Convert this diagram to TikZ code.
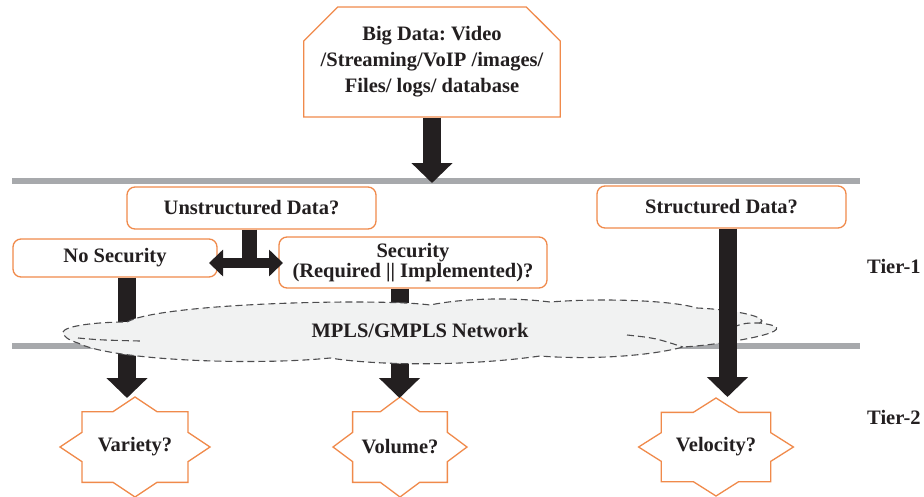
\documentclass[tikz,border=0pt]{standalone}
\usepackage{fontspec}
\setmainfont{Liberation Serif}
\usetikzlibrary{arrows.meta,shapes.misc}
\definecolor{boxorange}{HTML}{F08A4B}
\definecolor{ink}{HTML}{231F20}
\definecolor{railgray}{HTML}{A7A9AC}
\definecolor{cloudfill}{HTML}{F1F2F2}
\definecolor{cloudline}{HTML}{4D4D4F}

% eight-pointed star: centre x, centre y, vertical radius, horizontal stretch
\newcommand\eightstar[4]{%
  \draw[starline] (#1,{#2-#3})
    \foreach \a/\q in {67.5/0.7654,45/1,22.5/0.7654,0/1,-22.5/0.7654,-45/1,-67.5/0.7654,-90/1,
                       -112.5/0.7654,-135/1,-157.5/0.7654,180/1,157.5/0.7654,135/1,112.5/0.7654}
    { -- ({#1+#4*#3*\q*cos(\a)},{#2-#3*\q*sin(\a)}) } -- cycle;}

\frenchspacing
\begin{document}
\begin{tikzpicture}[x=1pt,y=-1pt,
  lbl/.style={font=\bfseries\fontsize{20.5}{24}\selectfont, text=ink, inner sep=0pt, align=center},
  qbox/.style={lbl, draw=boxorange, line width=1.3pt, fill=white, rounded corners=8pt},
  fatarrow/.style={draw=ink, line width=18pt, -{Triangle[width=40pt,length=20pt]}},
  rail/.style={draw=railgray, line width=6pt},
  starline/.style={draw=boxorange, line width=1.3pt, fill=white, line join=miter},
  cloudedge/.style={draw=cloudline, line width=1.1pt, dash pattern=on 7pt off 4pt}
]
\useasboundingbox (0,0) rectangle (924,496);

% tier separators
\draw[rail] (12,181) -- (860,181);
\draw[rail] (12,345.5) -- (860,345.5);

% source box
\node[lbl, draw=boxorange, line width=1.3pt, fill=white,
      chamfered rectangle, chamfered rectangle corners={north west,north east},
      chamfered rectangle xsep=17pt, chamfered rectangle ysep=17pt,
      minimum width=250pt, minimum height=110pt, font=\bfseries\fontsize{20.5}{26}\selectfont]
      (bigdata) at (432,62) {Big Data: Video\\/Streaming/VoIP /images/\\Files/ logs/ database};

% tier-1 decision boxes
\node[qbox, minimum width=249pt, minimum height=42pt] (unstr) at (251.5,208) {Unstructured Data?};
\node[qbox, minimum width=249pt, minimum height=42pt] (str) at (721.5,207) {Structured Data?};
\node[qbox, minimum width=204pt, minimum height=38pt] (nosec) at (115,258) {No Security};
\node[qbox, minimum width=268pt, minimum height=51pt, font=\bfseries\fontsize{20.5}{20.5}\selectfont]
      (sec) at (413,262.5) {Security\\(Required || Implemented)?};

% arrow end points
\coordinate (railtip) at (432,183);
\coordinate (stem) at (249,263);
\coordinate (dleft) at (209,263);
\coordinate (dright) at (283,263);
\coordinate (varietytip) at (127,398);
\coordinate (volumetip) at (399.5,398);
\coordinate (velocitytip) at (727.5,397);

% tier-2 outcomes
\eightstar{135}{447}{50}{1.5}
\eightstar{400}{447}{50}{1.34}
\eightstar{716}{447}{49}{1.58}
\node[lbl] (variety) at (135,447) {Variety?};
\node[lbl] (volume) at (400,447) {Volume?};
\node[lbl] (velocity) at (716,447) {Velocity?};

% flows
\draw[fatarrow] (bigdata.south) -- (railtip);
\draw[draw=ink, line width=15pt] (unstr.south -| stem) -- (stem);
\draw[draw=ink, line width=10pt, {Triangle[width=26pt,length=14pt]}-{Triangle[width=26pt,length=14pt]}] (dleft) -- (dright);
\draw[fatarrow] (nosec.south -| varietytip) -- (varietytip);
\draw[fatarrow] (sec.south -| volumetip) -- (volumetip);

% network cloud
\path[fill=cloudfill, cloudedge]
  (63,332) .. controls (65,326) and (95,322) .. (127,322)
  .. controls (160,303) and (380,298) .. (430,305)
  .. controls (470,297) and (520,298) .. (550,302)
  .. controls (600,298) and (670,300) .. (697,308)
  .. controls (740,310) and (770,318) .. (760,323)
  .. controls (815,330) and (720,345) .. (683,347)
  .. controls (650,356) and (590,360) .. (540,356)
  .. controls (470,366) and (380,366) .. (330,358)
  .. controls (250,366) and (110,360) .. (78,343)
  .. controls (68,340) and (63,336) .. (63,332) -- cycle;
\draw[cloudedge] (78,338) .. controls (100,340) .. (140,341);
\draw[cloudedge] (627,335) .. controls (655,338) .. (683,347);
\draw[cloudedge] (733,327) .. controls (745,323) .. (760,323);
\node[lbl] (mpls) at (420,330) {MPLS/GMPLS Network};

\draw[fatarrow] (str.south -| velocitytip) -- (velocitytip);

% tier labels
\node[lbl, anchor=west] (tier1) at (867,266) {Tier-1};
\node[lbl, anchor=west] (tier2) at (867,417) {Tier-2};
\end{tikzpicture}
\end{document}
